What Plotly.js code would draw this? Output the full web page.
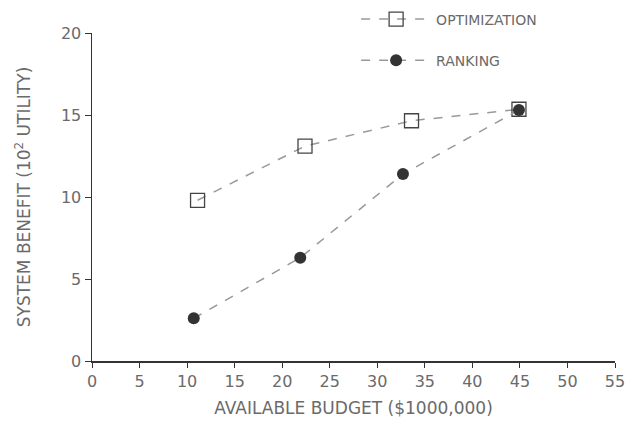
<!DOCTYPE html>
<html><head><meta charset="utf-8">
<script src="https://cdn.plot.ly/plotly-3.0.1.min.js"></script>
<style>html,body{margin:0;padding:0;background:#fff}#chart{width:642px;height:421px}</style>
</head><body><div id="chart"></div>
<script>
var optBudget = [11.1, 22.4, 33.6, 44.9];
var optBenefit = [9.8, 13.1, 14.65, 15.35];
var rankBudget = [10.7, 21.9, 32.7, 44.9];
var rankBenefit = [2.6, 6.3, 11.4, 15.3];
var seriesNames = ['OPTIMIZATION', 'RANKING'];
var xTicks = [0,5,10,15,20,25,30,35,40,45,50,55];
var yTicks = [0,5,10,15,20];

var txt = '#6a6a6a';
var fnt = 'DejaVu Sans, Liberation Sans, sans-serif';
var traces = [
  {x: optBudget, y: optBenefit, name: seriesNames[0], mode: 'lines+markers', legendgroup: 'a',
   line: {color: '#999', width: 1.5, dash: 'dash'},
   marker: {symbol: 'square-open', size: 14, color: '#444', line: {width: 1.3}}},
  {x: rankBudget, y: rankBenefit, name: seriesNames[1], mode: 'lines+markers', legendgroup: 'b',
   line: {color: '#999', width: 1.5, dash: 'dash'},
   marker: {symbol: 'circle', size: 12, color: '#333', line: {width: 0}}}
];
var layout = {
  width: 642, height: 421,
  margin: {l: 92, r: 27, t: 33, b: 60, autoexpand: false},
  paper_bgcolor: '#fff', plot_bgcolor: '#fff',
  font: {family: fnt, color: txt, size: 14},
  showlegend: true,
  legend: {x: 0.505, xanchor: 'left', y: 1.09, yanchor: 'top',
           traceorder: 'grouped', tracegroupgap: 20,
           itemwidth: 70, font: {size: 14, color: txt}, bgcolor: 'rgba(0,0,0,0)'},
  xaxis: {range: [0, 55], tickvals: xTicks, ticktext: xTicks.map(String), showgrid: false, zeroline: false,
          showline: true, linecolor: '#333', linewidth: 1.5, ticks: 'outside', ticklen: 5, tickcolor: '#333',
          tickfont: {size: 16, color: txt}, automargin: false,
          title: {text: 'AVAILABLE BUDGET ($1000,000)', font: {size: 17, color: txt}, standoff: 12}},
  yaxis: {range: [0, 20], tickvals: yTicks, ticktext: yTicks.map(String), showgrid: false, zeroline: false,
          showline: true, linecolor: '#333', linewidth: 1.5, ticks: 'outside', ticklen: 6, tickcolor: '#333',
          tickfont: {size: 16, color: txt}, automargin: false,
          title: {text: 'SYSTEM BENEFIT (10<sup>2</sup> UTILITY)', font: {size: 17, color: txt}, standoff: 26}}
};
Plotly.newPlot('chart', traces, layout, {displayModeBar: false, staticPlot: true});
</script></body></html>
